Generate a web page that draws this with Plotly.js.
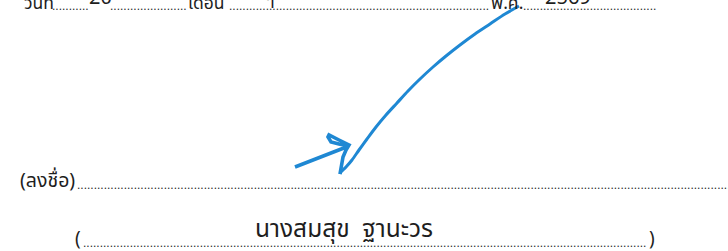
<!DOCTYPE html>
<html><head><meta charset="utf-8">
<script src="https://cdn.plot.ly/plotly-3.0.1.min.js"></script>
<style>html,body{margin:0;padding:0;background:#fff;}</style>
</head><body>
<div id="chart" style="width:728px;height:251px;"></div>
<script>
// Signature: main stroke and arrow head (page pixel coordinates)
const strokeX = [519, 505, 490, 475, 460, 446, 433, 420, 408, 397, 386, 376, 367, 359, 352, 346, 341, 340];
const strokeY = [6, 14, 24, 34, 45, 56, 67, 79, 91, 103, 115, 127, 139, 150, 160, 167, 172, 174];
const arrowX = [340, 341, 343, 346, 349, 339, 329, 328, 331, 339, 349, 331, 313, 295];
const arrowY = [174, 166, 157, 150, 145, 140, 135, 137, 142, 144, 146, 153, 160, 167];

// Printed / filled-in words
const words = ["วันที่", "20", "เดือน", "ๆ", "พ.ศ.", "2569", "(ลงชื่อ)", "นางสมสุข  ฐานะวร", "(", ")"];

// Layout of the words: left x, baseline y, font size
const placeX = [22, 87, 186, 262, 489, 543, 18, 253, 73, 647];
const placeBase = [9.5, 4.5, 9.5, 4.5, 9.5, 4.5, 188, 237, 246.5, 246.5];
const placeSize = [17.5, 20, 17.5, 18, 17.5, 20, 19.5, 24.5, 19, 19];

// Dotted leaders: start x, end x, centre y of the dots
const leadStart = [50, 108, 227, 521, 75, 81];
const leadEnd = [87, 186, 489, 655, 728, 646];
const leadY = [7.5, 7.5, 7.5, 7.5, 186.5, 244.5];

const W = 728, H = 251;
const thai = "'Noto Sans Thai', 'Noto Sans', 'DejaVu Sans', sans-serif";
const annotations = [];
for (let i = 0; i < words.length; i++) {
  const yb = placeBase[i] + 1 + 0.47 * placeSize[i];
  annotations.push({
    x: placeX[i] / W, y: 1 - yb / H, xref: 'paper', yref: 'paper', text: words[i],
    showarrow: false, xanchor: 'left', yanchor: 'bottom',
    font: {family: thai, size: placeSize[i], color: '#1e1e1e'}
  });
}
for (let i = 0; i < leadStart.length; i++) {
  const n = Math.round((leadEnd[i] - leadStart[i]) / 3.34);
  const yb = leadY[i] + 7.5;
  annotations.push({
    x: leadStart[i] / W, y: 1 - yb / H, xref: 'paper', yref: 'paper', text: '.'.repeat(n),
    showarrow: false, xanchor: 'left', yanchor: 'bottom',
    font: {family: "'Liberation Sans', Arial, sans-serif", size: 12, color: '#2a2a2a'}
  });
}

const data = [
  {x: strokeX, y: strokeY, type: 'scatter', mode: 'lines',
   line: {color: '#1f88d3', width: 3, shape: 'spline', smoothing: 0.8}, hoverinfo: 'skip'},
  {x: arrowX, y: arrowY, type: 'scatter', mode: 'lines',
   line: {color: '#1f88d3', width: 3.6}, hoverinfo: 'skip'}
];
const layout = {
  width: W, height: H,
  margin: {l: 0, r: 0, t: 0, b: 0},
  paper_bgcolor: '#ffffff', plot_bgcolor: '#ffffff',
  showlegend: false,
  xaxis: {range: [0, W], visible: false, fixedrange: true},
  yaxis: {range: [H, 0], visible: false, fixedrange: true},
  annotations: annotations
};
Plotly.newPlot('chart', data, layout, {staticPlot: true, displayModeBar: false});
</script>
</body></html>
